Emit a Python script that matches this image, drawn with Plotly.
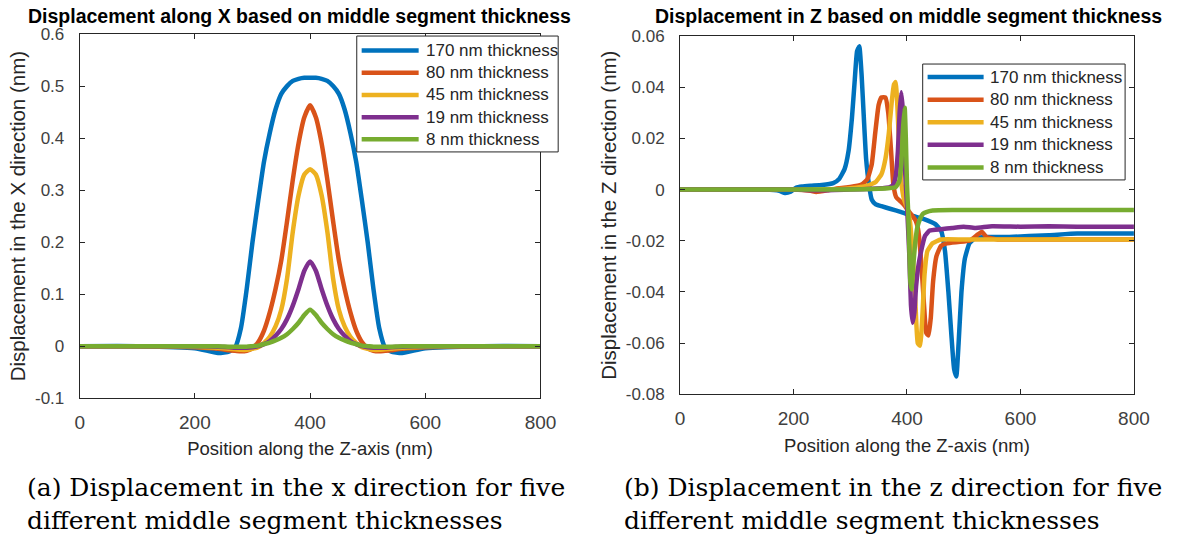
import plotly.graph_objects as go

# ---------------- data ----------------
series_names = ["170 nm thickness", "80 nm thickness", "45 nm thickness",
                "19 nm thickness", "8 nm thickness"]
series_colors = ["#0072BD", "#D95319", "#EDB120", "#7E2F8E", "#77AC30"]

# Left panel: displacement along X (nm) vs position along Z (nm)
pos_x = [0, 100, 200, 240, 260, 270, 280, 290, 300, 310, 320, 330, 340, 350, 360, 370,
         380, 390, 400, 410, 420, 430, 440, 450, 460, 470, 480, 490, 500, 510, 520, 530,
         540, 560, 600, 700, 800]
dx_170 = [0, 0, -0.004, -0.013, -0.01, -0.002, 0.035, 0.11, 0.2, 0.28, 0.355, 0.41, 0.455,
          0.485, 0.5, 0.51, 0.514, 0.516, 0.516, 0.516, 0.514, 0.51, 0.5, 0.485, 0.455,
          0.41, 0.355, 0.28, 0.2, 0.11, 0.035, -0.002, -0.01, -0.013, -0.004, 0, 0]
dx_80 = [0, 0, -0.002, -0.005, -0.008, -0.009, -0.01, -0.009, -0.004, 0.008, 0.03, 0.065,
         0.11, 0.165, 0.24, 0.32, 0.39, 0.44, 0.463, 0.44, 0.39, 0.32, 0.24, 0.165, 0.11,
         0.065, 0.03, 0.008, -0.004, -0.009, -0.01, -0.009, -0.008, -0.005, -0.002, 0, 0]
dx_45 = [0, 0, -0.001, -0.003, -0.005, -0.006, -0.007, -0.007, -0.005, -0.002, 0.006,
         0.018, 0.038, 0.07, 0.13, 0.22, 0.29, 0.33, 0.34, 0.33, 0.29, 0.22, 0.13, 0.07,
         0.038, 0.018, 0.006, -0.002, -0.005, -0.007, -0.007, -0.006, -0.005, -0.003,
         -0.001, 0, 0]
dx_19 = [0, 0, 0, -0.001, -0.002, -0.003, -0.003, -0.003, -0.002, 0, 0.004, 0.01, 0.02,
         0.033, 0.052, 0.078, 0.11, 0.145, 0.163, 0.145, 0.11, 0.078, 0.052, 0.033, 0.02,
         0.01, 0.004, 0, -0.002, -0.003, -0.003, -0.003, -0.002, -0.001, 0, 0, 0]
dx_8 = [0, 0, 0, 0, -0.001, -0.001, -0.001, -0.001, 0, 0.001, 0.004, 0.007, 0.011, 0.016,
        0.023, 0.033, 0.045, 0.06, 0.07, 0.06, 0.045, 0.033, 0.023, 0.016, 0.011, 0.007,
        0.004, 0.001, 0, -0.001, -0.001, -0.001, -0.001, 0, 0, 0, 0]

# Right panel: displacement in Z (nm) vs position along Z (nm)
pz_170 = [0, 100, 150, 175, 185, 195, 205, 215, 230, 250, 270, 280, 290, 297, 303, 308,
          312, 316, 320, 324, 328, 333, 338, 345, 355, 370, 390, 410, 430, 450, 460, 467,
          473, 478, 483, 487, 491, 496, 502, 510, 520, 540, 580, 650, 700, 800]
dz_170 = [0, 0, 0, -0.0005, -0.0013, -0.0008, 0.0008, 0.0012, 0.0015, 0.0018, 0.0025,
          0.004, 0.008, 0.015, 0.028, 0.043, 0.054, 0.056, 0.045, 0.028, 0.012, 0.002,
          -0.004, -0.0058, -0.0065, -0.0075, -0.0088, -0.0103, -0.0115, -0.0135, -0.016,
          -0.024, -0.04, -0.056, -0.07, -0.073, -0.06, -0.04, -0.027, -0.021, -0.019,
          -0.0185, -0.0185, -0.0178, -0.0172, -0.0172]
pz_80 = [0, 100, 150, 200, 230, 240, 260, 280, 300, 320, 330, 338, 344, 350, 355, 362,
         367, 372, 376, 381, 388, 395, 405, 415, 420, 425, 430, 434, 438, 442, 446, 452,
         460, 470, 490, 510, 525, 532, 540, 560, 600, 800]
dz_80 = [0, 0, 0, 0, -0.0005, -0.0009, -0.0003, 0.0005, 0.001, 0.002, 0.004, 0.01, 0.022,
         0.033, 0.036, 0.036, 0.03, 0.015, 0.002, -0.003, -0.0045, -0.006, -0.009, -0.012,
         -0.016, -0.028, -0.045, -0.056, -0.057, -0.05, -0.036, -0.026, -0.022, -0.021,
         -0.0205, -0.02, -0.0175, -0.0165, -0.0185, -0.0195, -0.0195, -0.0195]
pz_45 = [0, 100, 200, 250, 300, 330, 345, 355, 362, 368, 373, 377, 380, 383, 386, 390,
         395, 400, 405, 410, 415, 419, 423, 427, 431, 436, 445, 460, 500, 600, 800]
dz_45 = [0, 0, 0, 0, 0.0005, 0.0015, 0.003, 0.006, 0.012, 0.022, 0.034, 0.041, 0.042,
         0.033, 0.018, 0.003, -0.004, -0.007, -0.012, -0.025, -0.045, -0.06, -0.061,
         -0.05, -0.033, -0.024, -0.021, -0.0195, -0.0195, -0.0195, -0.0195]
pz_19 = [0, 100, 200, 250, 300, 340, 360, 370, 376, 380, 384, 387, 390, 393, 396, 400,
         404, 407, 410, 413, 416, 420, 425, 432, 440, 460, 480, 500, 520, 550, 600, 650,
         700, 800]
dz_19 = [0, 0, 0, -0.0003, 0, 0.0003, 0.0006, 0.001, 0.002, 0.005, 0.015, 0.03, 0.038,
         0.03, 0.01, -0.006, -0.025, -0.045, -0.052, -0.048, -0.038, -0.03, -0.024,
         -0.018, -0.016, -0.0155, -0.015, -0.0145, -0.015, -0.0143, -0.0145, -0.0143,
         -0.0145, -0.0145]
pz_8 = [0, 100, 200, 300, 350, 370, 380, 386, 390, 393, 396, 398, 400, 402, 404, 406,
        408, 411, 414, 418, 423, 428, 434, 445, 480, 600, 800]
dz_8 = [0, 0, 0, 0, 0.0003, 0.0006, 0.001, 0.003, 0.01, 0.024, 0.032, 0.02, 0.002, -0.008,
        -0.022, -0.036, -0.039, -0.03, -0.022, -0.015, -0.0115, -0.0095, -0.0088, -0.0082,
        -0.008, -0.008, -0.008]

x_ticks = [0, 200, 400, 600, 800]
left_y_ticks = [-0.1, 0, 0.1, 0.2, 0.3, 0.4, 0.5, 0.6]
left_y_labels = ["-0.1", "0", "0.1", "0.2", "0.3", "0.4", "0.5", "0.6"]
right_y_ticks = [-0.08, -0.06, -0.04, -0.02, 0, 0.02, 0.04, 0.06]
right_y_labels = ["-0.08", "-0.06", "-0.04", "-0.02", "0", "0.02", "0.04", "0.06"]

left_title = "Displacement along X based on middle segment thickness"
right_title = "Displacement in Z based on middle segment thickness"
x_label = "Position along the Z-axis (nm)"
left_y_label = "Displacement in the X direction (nm)"
right_y_label = "Displacement in the Z direction (nm)"
caption_a = ["(a) Displacement in the x direction for five",
             "different middle segment thicknesses"]
caption_b = ["(b) Displacement in the z direction for five",
             "different middle segment thicknesses"]

# ---------------- figure ----------------
W, H = 1203, 554
SANS = "Liberation Sans, Arial, sans-serif"
SERIF = "DejaVu Serif, serif"
AX = "#262626"


def px_x(p):
    return p / W


def px_y(p):
    return 1 - p / H


fig = go.Figure()
left_y = [dx_170, dx_80, dx_45, dx_19, dx_8]
for name, col, ys in zip(series_names, series_colors, left_y):
    fig.add_trace(go.Scatter(x=pos_x, y=ys, mode="lines", name=name, showlegend=False,
                             line=dict(color=col, width=4.5, shape="spline", smoothing=0.6),
                             xaxis="x", yaxis="y"))
right_x = [pz_170, pz_80, pz_45, pz_19, pz_8]
right_y = [dz_170, dz_80, dz_45, dz_19, dz_8]
for name, col, xs, ys in zip(series_names, series_colors, right_x, right_y):
    fig.add_trace(go.Scatter(x=xs, y=ys, mode="lines", name=name, showlegend=False,
                             line=dict(color=col, width=4.5, shape="spline", smoothing=0.4),
                             xaxis="x2", yaxis="y2"))

xtick_font = dict(family=SANS, size=19, color="#404040")
ytick_font = dict(family=SANS, size=17, color="#404040")


def xaxis_cfg(domain, anchor):
    return dict(domain=domain, anchor=anchor, range=[0, 800], tickvals=x_ticks,
                ticks="inside", ticklen=5, tickcolor=AX, showline=True, linecolor=AX,
                linewidth=1, mirror="ticks", showgrid=False, zeroline=False,
                tickfont=xtick_font, ticklabelstandoff=7,
                title=dict(text=x_label, font=dict(family=SANS, size=18.5, color=AX),
                           standoff=10))


def yaxis_cfg(domain, anchor, rng, tv, tt, title):
    return dict(domain=domain, anchor=anchor, range=rng, tickvals=tv, ticktext=tt,
                ticks="inside", ticklen=5, tickcolor=AX, showline=True, linecolor=AX,
                linewidth=1, mirror="ticks", showgrid=False, zeroline=False,
                tickfont=ytick_font, ticklabelstandoff=11,
                title=dict(text=title, font=dict(family=SANS, size=20.5, color=AX),
                           standoff=3))


fig.update_layout(
    width=W, height=H, margin=dict(l=0, r=0, t=0, b=0),
    paper_bgcolor="white", plot_bgcolor="white",
    showlegend=False,
    xaxis=xaxis_cfg([px_x(76), px_x(545)], "y"),
    yaxis=yaxis_cfg([px_y(403), px_y(26)], "x", [-0.1, 0.6], left_y_ticks, left_y_labels,
                    left_y_label),
    xaxis2=xaxis_cfg([px_x(687), px_x(1149)], "y2"),
    yaxis2=yaxis_cfg([px_y(399), px_y(28)], "x2", [-0.08, 0.06], right_y_ticks,
                     right_y_labels, right_y_label),
)

annotations = [
    dict(text="<b>%s</b>" % left_title, x=px_x(300), y=px_y(7.5), xref="paper",
         yref="paper", xanchor="center", yanchor="middle", showarrow=False,
         font=dict(family=SANS, size=19.5, color="black")),
    dict(text="<b>%s</b>" % right_title, x=px_x(920), y=px_y(7.5), xref="paper",
         yref="paper", xanchor="center", yanchor="middle", showarrow=False,
         font=dict(family=SANS, size=19.5, color="black")),
]
for cap, x0 in ((caption_a, 20), (caption_b, 628)):
    for i, line in enumerate(cap):
        annotations.append(dict(text=line, x=px_x(x0), y=px_y(495 + 35 * i), xref="paper",
                                yref="paper", xanchor="left", yanchor="middle",
                                showarrow=False,
                                font=dict(family=SERIF, size=25, color="black")))

# legends (box, sample line, label) for each panel
shapes = []
legend_specs = [
    # box left, box top, box right, box bottom, first entry y, step, sample x0, x1, text x
    (358, 28, 563, 148, 43, 23, 363, 421, 426),
    (934, 57, 1140, 177, 70.5, 23.4, 939, 996, 1000),
]
for bx0, by0, bx1, by1, ey0, step, lx0, lx1, tx in legend_specs:
    shapes.append(dict(type="rect", xref="paper", yref="paper", layer="above",
                       x0=px_x(bx0), x1=px_x(bx1), y0=px_y(by1), y1=px_y(by0),
                       fillcolor="white", line=dict(color=AX, width=1)))
    for i, (name, col) in enumerate(zip(series_names, series_colors)):
        yy = px_y(ey0 + step * i)
        shapes.append(dict(type="line", xref="paper", yref="paper", layer="above",
                           x0=px_x(lx0), x1=px_x(lx1), y0=yy, y1=yy,
                           line=dict(color=col, width=4.5)))
        annotations.append(dict(text=name, x=px_x(tx), y=yy, xref="paper", yref="paper",
                                xanchor="left", yanchor="middle", showarrow=False,
                                font=dict(family=SANS, size=17, color=AX)))

fig.update_layout(annotations=annotations, shapes=shapes)

fig.write_html("out.html")
